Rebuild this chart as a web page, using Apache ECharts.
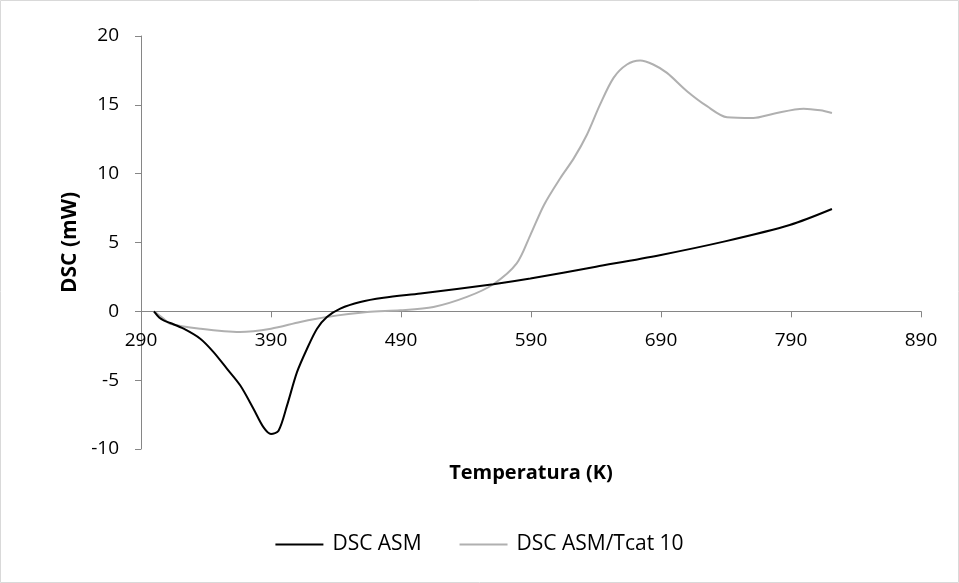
<!DOCTYPE html>
<html>
<head>
<meta charset="utf-8">
<script src="https://cdn.jsdelivr.net/npm/echarts@6/dist/echarts.min.js"></script>
<style>
  html, body { margin: 0; padding: 0; background: #fff; }
  #chart { width: 959px; height: 583px; }
</style>
</head>
<body>
<div id="chart"></div>
<script>
// Temperature (K) and DSC signal (mW) for the plain ASM sample
const tempASM = [300, 304, 307.4, 312.5, 322.8, 335.6, 345.8, 356.2, 366.4, 376.6, 384.3, 390, 395.8, 402.3, 410, 417.7, 425.4, 433, 443.3, 458.7, 476.6, 505, 561, 589.5, 640, 689, 740, 789, 821.5];
const dscASM  = [0, -0.45, -0.66, -0.85, -1.26, -1.99, -2.96, -4.18, -5.39, -7.09, -8.43, -8.91, -8.67, -6.85, -4.42, -2.72, -1.26, -0.41, 0.2, 0.68, 0.98, 1.3, 1.97, 2.38, 3.24, 4.08, 5.1, 6.27, 7.43];

// Temperature (K) and DSC signal (mW) for ASM with Tcat 10
const tempTcat = [300, 307, 312.5, 335.6, 366, 390, 412.5, 433, 464, 489.5, 515, 540.7, 561, 579, 589.5, 600, 612.5, 623, 633, 643, 653.5, 663.8, 674, 684, 694.6, 710, 725.4, 740.8, 761, 776.6, 799.7, 812.5, 821.5];
const dscTcat  = [0, -0.5, -0.9, -1.26, -1.5, -1.26, -0.77, -0.41, -0.05, 0.07, 0.32, 1.05, 1.97, 3.48, 5.54, 7.73, 9.67, 11.13, 12.83, 15.0, 16.96, 17.93, 18.22, 17.93, 17.32, 15.99, 14.9, 14.1, 14.05, 14.36, 14.72, 14.6, 14.41];

// Axis tick labels
const xTicks = [290, 390, 490, 590, 690, 790, 890];
const yTicks = [-10, -5, 0, 5, 10, 15, 20];

const seriesNames = ['DSC ASM', 'DSC ASM/Tcat 10'];

const pairs = (xs, ys) => xs.map((x, i) => [x, ys[i]]);

const FONT = 'Open Sans';
const chart = echarts.init(document.getElementById('chart'), null, { renderer: 'canvas' });

chart.setOption({
  animation: false,
  backgroundColor: '#fff',
  textStyle: { fontFamily: FONT },
  grid: { left: 141, right: 38, top: 36, bottom: 134, outerBoundsMode: 'none', containLabel: false },
  graphic: [{
    type: 'rect',
    shape: { x: 0.5, y: 0.5, width: 958, height: 582 },
    style: { fill: 'none', stroke: '#d9d9d9', lineWidth: 1 },
    silent: true
  }],
  legend: {
    data: seriesNames,
    top: 529,
    left: 'center',
    icon: 'rect',
    itemWidth: 48,
    itemHeight: 2,
    itemGap: 38,
    textStyle: { fontFamily: FONT, fontSize: 21, color: '#000', padding: [0, 0, 0, 4] }
  },
  xAxis: {
    type: 'value',
    min: xTicks[0],
    max: xTicks[xTicks.length - 1],
    offset: 0,
    name: 'Temperatura (K)',
    nameLocation: 'middle',
    nameGap: 152,
    nameTextStyle: { fontFamily: FONT, fontSize: 20, fontWeight: 'bold', color: '#000' },
    axisLine: { onZero: false, lineStyle: { color: '#868686', width: 1 } },
    axisTick: { show: true, length: 6, inside: false, customValues: xTicks, lineStyle: { color: '#868686' } },
    axisLabel: { customValues: xTicks, margin: 20, fontSize: 19, color: '#000', fontFamily: FONT },
    splitLine: { show: false }
  },
  yAxis: {
    type: 'value',
    min: yTicks[0],
    max: yTicks[yTicks.length - 1],
    interval: 5,
    name: 'DSC (mW)',
    nameLocation: 'middle',
    nameGap: 59,
    nameRotate: 90,
    nameTextStyle: { fontFamily: FONT, fontSize: 21, fontWeight: 'bold', color: '#000' },
    axisLine: { show: true, lineStyle: { color: '#868686', width: 1 } },
    axisTick: { show: true, length: 6, lineStyle: { color: '#868686' } },
    axisLabel: { margin: 22, fontSize: 19, color: '#000', fontFamily: FONT },
    splitLine: { show: false }
  },
  series: [
    {
      name: seriesNames[0],
      type: 'line',
      data: pairs(tempASM, dscASM),
      smooth: 0.3,
      symbol: 'none',
      lineStyle: { color: '#000', width: 2 },
      itemStyle: { color: '#000' },
      z: 3
    },
    {
      name: seriesNames[1],
      type: 'line',
      data: pairs(tempTcat, dscTcat),
      smooth: 0.3,
      symbol: 'none',
      lineStyle: { color: '#b0b0b0', width: 2 },
      itemStyle: { color: '#b0b0b0' },
      z: 2
    }
  ]
});

// Lift the temperature axis (line, ticks, labels) to the y = 0 level
const zeroPx = chart.convertToPixel({ yAxisIndex: 0 }, 0);
const basePx = chart.convertToPixel({ yAxisIndex: 0 }, yTicks[0]);
chart.setOption({ xAxis: { offset: zeroPx - basePx } });
</script>
</body>
</html>
